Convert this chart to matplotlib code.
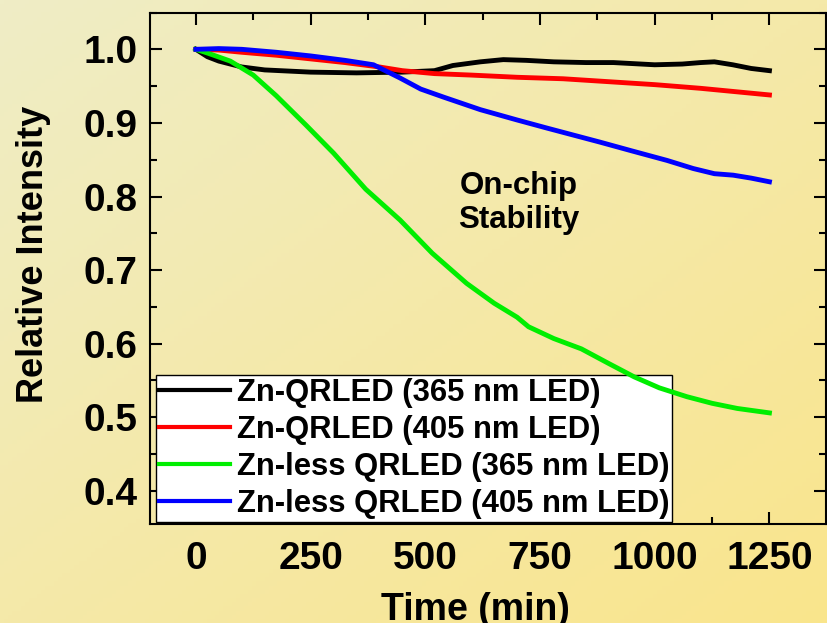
import numpy as np
import matplotlib
matplotlib.use("Agg")
import matplotlib.pyplot as plt
from matplotlib.ticker import MultipleLocator, FormatStrFormatter

plt.rcParams['font.family'] = ['Liberation Sans', 'DejaVu Sans']
plt.rcParams['font.weight'] = 'bold'

# Zn-QRLED (365 nm LED)
t_zn365 = [0, 25, 50, 100, 150, 250, 350, 450, 520, 560, 620, 670, 720, 780,
           850, 910, 1000, 1060, 1100, 1130, 1170, 1210, 1250]
i_zn365 = [1.0, 0.990, 0.984, 0.976, 0.972, 0.969, 0.968, 0.969, 0.971, 0.978,
           0.983, 0.986, 0.985, 0.983, 0.982, 0.982, 0.979, 0.980, 0.982, 0.983,
           0.979, 0.974, 0.971]

# Zn-QRLED (405 nm LED)
t_zn405 = [0, 50, 100, 175, 250, 325, 400, 450, 520, 600, 700, 800, 900, 1000,
           1100, 1200, 1250]
i_zn405 = [1.0, 0.999, 0.996, 0.992, 0.987, 0.982, 0.976, 0.971, 0.967, 0.965,
           0.962, 0.960, 0.956, 0.952, 0.947, 0.941, 0.938]

# Zn-less QRLED (365 nm LED)
t_less365 = [0, 25, 75, 125, 175, 240, 300, 370, 445, 515, 590, 650, 700, 725,
             780, 840, 900, 955, 1010, 1070, 1125, 1180, 1250]
i_less365 = [1.0, 0.995, 0.984, 0.965, 0.937, 0.897, 0.859, 0.810, 0.768, 0.723,
             0.682, 0.655, 0.636, 0.623, 0.607, 0.593, 0.573, 0.555, 0.540,
             0.528, 0.519, 0.512, 0.506]

# Zn-less QRLED (405 nm LED)
t_less405 = [0, 50, 100, 175, 250, 325, 387, 445, 490, 540, 620, 700, 765, 880,
             950, 1027, 1084, 1130, 1171, 1210, 1250]
i_less405 = [1.0, 1.001, 1.0, 0.996, 0.991, 0.985, 0.979, 0.961, 0.946, 0.935,
             0.918, 0.904, 0.893, 0.874, 0.862, 0.849, 0.838, 0.831, 0.829,
             0.825, 0.820]

labels = ["Zn-QRLED (365 nm LED)", "Zn-QRLED (405 nm LED)",
          "Zn-less QRLED (365 nm LED)", "Zn-less QRLED (405 nm LED)"]
colors = ["#000000", "#ff0000", "#00ee00", "#0000ff"]

fig = plt.figure(figsize=(8.27, 6.23), dpi=100)

# yellow gradient background
bg = fig.add_axes([0, 0, 1, 1], zorder=-10)
gx, gy = np.meshgrid(np.linspace(0, 1, 200), np.linspace(0, 1, 150))
g = (gx + gy) / 2
c0 = np.array([239, 237, 198]) / 255
c1 = np.array([250, 229, 140]) / 255
bg.imshow(c0 + g[..., None] * (c1 - c0), aspect='auto', extent=[0, 1, 0, 1], origin='upper')
bg.axis('off')

ax = fig.add_axes([0.1814, 0.1589, 0.8178, 0.821])
ax.patch.set_alpha(0)

series = [(t_zn365, i_zn365), (t_zn405, i_zn405), (t_less365, i_less365), (t_less405, i_less405)]
for (t, v), c, lab in zip(series, colors, labels):
    ax.plot(t, v, color=c, lw=3.5, label=lab, zorder=3)

ax.set_xlim(-100, 1374)
ax.set_ylim(0.355, 1.05)
ax.xaxis.set_major_locator(MultipleLocator(250))
ax.xaxis.set_minor_locator(MultipleLocator(125))
ax.yaxis.set_major_locator(MultipleLocator(0.1))
ax.yaxis.set_minor_locator(MultipleLocator(0.05))
ax.yaxis.set_major_formatter(FormatStrFormatter('%.1f'))

ax.tick_params(which='both', direction='in', top=True, right=True, width=1.5, labelsize=28)
ax.tick_params(which='major', length=8.5)
ax.tick_params(which='minor', length=5)
ax.tick_params(axis='x', pad=12)
ax.tick_params(axis='y', pad=9)
for s in ax.spines.values():
    s.set_linewidth(1.5)

ax.set_xlabel("Time (min)", fontsize=27, fontweight='bold')
ax.xaxis.label.set_va('top')
ax.xaxis.set_label_coords(0.4806, -0.133)
ax.set_ylabel("Relative Intensity", fontsize=26, fontweight='bold')
ax.yaxis.label.set_va('center')
ax.yaxis.set_label_coords(-0.173, 0.527)

ax.text(704, 0.791, "On-chip\nStability", fontsize=22.5, fontweight='bold',
        ha='center', va='center', linespacing=1.15)

leg = ax.legend(loc='lower left', bbox_to_anchor=(0.0089, 0.0045), borderaxespad=0,
                fontsize=22.3, frameon=True, fancybox=False, framealpha=1,
                edgecolor='black', borderpad=0.1, handlelength=2.3,
                handletextpad=0.2, labelspacing=0.22)
leg.get_frame().set_linewidth(1.0)
leg.set_zorder(2)
for h in leg.get_lines():
    h.set_linewidth(3)

fig.savefig("out.png", dpi=100)
